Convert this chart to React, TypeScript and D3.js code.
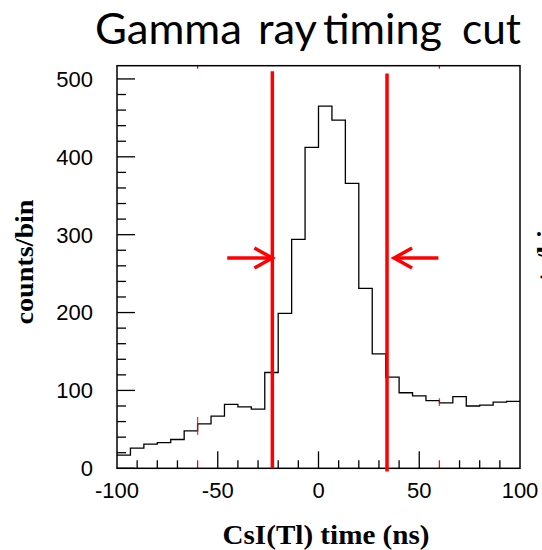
import React from "react";
import * as d3 from "d3";

// ---- data ----
const binEdgesStart = -100;
const binWidth = 200 / 30;
const counts = [17, 26, 31, 33, 37, 48, 57, 67, 82, 79, 76, 123, 199, 294, 412, 465, 447, 366, 231, 147, 117, 97, 93, 87, 84, 92, 80, 81, 85, 86];
const cutLow = -22.9;
const cutHigh = 34;
const yTicksMajor = [0, 100, 200, 300, 400, 500];
const xTicksMajor = [-100, -50, 0, 50, 100];
const titleWords = ["Gamma", "ray", "timing", "cut"];
// red marker segments [x, yLow, yHigh]
const redMarks: [number, number, number][] = [[-60, 43, 66], [60, 80, 90]];
const redTicks = [-60, 60];

const W = 542, H = 550;
const x0 = 117, x1 = 520, yTop = 65.7, yBot = 468.3;

export default function App() {
  const x = d3.scaleLinear().domain([-100, 100]).range([x0, x1]);
  const y = d3.scaleLinear().domain([0, 517]).range([yBot, yTop]);

  // histogram step path
  const pts: [number, number][] = [];
  counts.forEach((c, i) => {
    const a = binEdgesStart + i * binWidth;
    pts.push([a, c]);
    pts.push([a + binWidth, c]);
  });
  const line = d3.line<[number, number]>().x(d => x(d[0])).y(d => y(d[1]));
  const histPath = line(pts) || "";

  const yMinor = d3.range(0, 501, 20);
  const xMinor = d3.range(-90, 100, 10);

  // title word positions / widths (px), Calibri-like proportions
  const titleX = [95, 258, 323, 462];
  const titleLen = [147, 59, 119, 59];

  const arrowY = y(270);
  const red = "#ff0000";

  return (
    <svg width={W} height={H} style={{ position: "absolute", left: 0, top: 0, background: "#fff" }}>
      <rect x={0} y={0} width={W} height={H} fill="#fff" />
      {/* title */}
      {titleWords.map((w, i) => (
        <text key={w} x={titleX[i]} y={43.5} fontFamily="Lato, 'Open Sans', sans-serif" fontSize={42}
          textLength={titleLen[i]} lengthAdjust="spacingAndGlyphs" fill="#000">{w}</text>
      ))}

      {/* y minor/major ticks */}
      {yMinor.map(v => (
        <line key={"ym" + v} x1={x0} x2={x0 + (v % 100 === 0 ? 18 : 9)} y1={y(v)} y2={y(v)} stroke="#000" strokeWidth={1.3} />
      ))}
      {/* x ticks */}
      {xMinor.map(v => (
        <line key={"xm" + v} x1={x(v)} x2={x(v)} y1={yBot} y2={yBot - (v % 50 === 0 ? 17 : 8)}
          stroke={redTicks.includes(v) ? red : "#000"} strokeWidth={1.3} />
      ))}
      {redTicks.map(v => (
        <line key={"rt" + v} x1={x(v)} x2={x(v)} y1={yTop} y2={yTop + 3} stroke={red} strokeWidth={1.3} />
      ))}

      {/* histogram */}
      <path d={histPath} fill="none" stroke="#000" strokeWidth={1.3} />
      {redMarks.map(([v, lo, hi]) => (
        <line key={"rm" + v} x1={x(v)} x2={x(v)} y1={y(lo)} y2={y(hi)} stroke={red} strokeWidth={1.3} opacity={0.8} />
      ))}

      {/* frame */}
      <rect x={x0} y={yTop} width={x1 - x0} height={yBot - yTop} fill="none" stroke="#000" strokeWidth={1.5} />

      {/* y tick labels */}
      {yTicksMajor.map(v => (
        <text key={"yl" + v} x={93} y={y(v)} dy="0.36em" textAnchor="end"
          fontFamily="'Liberation Sans', Arial, sans-serif" fontSize={22} fill="#000">{v}</text>
      ))}
      {/* x tick labels */}
      {xTicksMajor.map(v => (
        <text key={"xl" + v} x={x(v)} y={498} textAnchor="middle"
          fontFamily="'Liberation Sans', Arial, sans-serif" fontSize={22} fill="#000">{v}</text>
      ))}

      {/* cut lines */}
      <line x1={x(cutLow)} x2={x(cutLow)} y1={y(510)} y2={y(0)} stroke={red} strokeWidth={3.5} />
      <line x1={x(cutHigh)} x2={x(cutHigh)} y1={y(507)} y2={y(-4)} stroke={red} strokeWidth={3.5} />

      {/* arrows */}
      <g stroke={red} strokeWidth={3.5} fill="none" strokeLinecap="butt">
        <line x1={x(-45.3)} x2={x(cutLow)} y1={arrowY} y2={arrowY} />
        <polyline points={`${x(cutLow) - 18},${arrowY - 10} ${x(cutLow)},${arrowY} ${x(cutLow) - 18},${arrowY + 10}`} />
        <line x1={x(59.5)} x2={x(cutHigh + 3.5)} y1={arrowY} y2={arrowY} />
        <polyline points={`${x(cutHigh + 3.5) + 18},${arrowY - 10} ${x(cutHigh + 3.5)},${arrowY} ${x(cutHigh + 3.5) + 18},${arrowY + 10}`} />
      </g>

      {/* axis titles */}
      <text x={326} y={544} textAnchor="middle" fontFamily="'Liberation Serif', 'Times New Roman', serif"
        fontWeight="bold" fontSize={27} textLength={207} lengthAdjust="spacingAndGlyphs" fill="#000">CsI(Tl) time (ns)</text>
      <text transform="translate(33,262) rotate(-90)" textAnchor="middle"
        fontFamily="'Liberation Serif', 'Times New Roman', serif" fontWeight="bold" fontSize={25}
        textLength={125} lengthAdjust="spacingAndGlyphs" fill="#000">counts/bin</text>
      {/* clipped label of neighbouring panel */}
      <text transform="translate(555,277) rotate(-90)" textAnchor="middle"
        fontFamily="'Liberation Serif', 'Times New Roman', serif" fontWeight="bold" fontSize={25}
        textLength={125} lengthAdjust="spacingAndGlyphs" fill="#000">counts/bin</text>
    </svg>
  );
}
